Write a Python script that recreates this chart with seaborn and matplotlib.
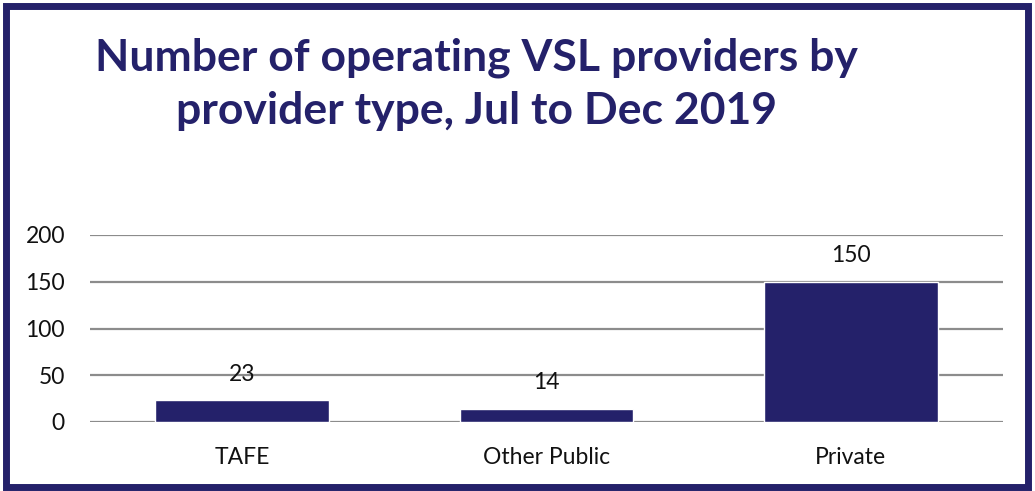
import matplotlib.pyplot as plt
from matplotlib.patches import Rectangle
import seaborn as sns
import pandas as pd

categories = ["TAFE", "Other Public", "Private"]
providers = [23, 14, 150]
yticks = [0, 50, 100, 150, 200]

navy = "#24216a"

sns.set_theme(style="white")
plt.rcParams["font.family"] = ["Lato", "DejaVu Sans"]

df = pd.DataFrame({"type": categories, "n": providers})

fig = plt.figure(figsize=(10.35, 4.91), dpi=100)
ax = fig.add_axes([90 / 1035, 1 - 422 / 491, 913 / 1035, 187 / 491])

sns.barplot(data=df, x="type", y="n", color=navy, saturation=1,
            width=0.57, ax=ax)

ax.set_ylim(0, 200)
ax.set_yticks(yticks)
ax.set_xlim(-0.5, 2.5)
ax.set_xlabel("")
ax.set_ylabel("")
for s in ax.spines.values():
    s.set_visible(False)
ax.grid(axis="y", color="#8c8c8c", linewidth=1.6)
ax.set_axisbelow(True)
ax.tick_params(axis="both", length=0, labelsize=16.5, colors="#111111")
ax.tick_params(axis="y", pad=18)
ax.tick_params(axis="x", pad=18)

for i, v in enumerate(providers):
    ax.annotate(str(v), (i, v), xytext=(0, 19), textcoords="offset points",
                ha="center", va="center", fontsize=16.5, color="#111111")

fig.text(476 / 1035, 1 - 84 / 491,
         "Number of operating VSL providers by\nprovider type, Jul to Dec 2019",
         ha="center", va="center", fontsize=32, fontweight="bold",
         color=navy, linespacing=1.4)

fig.patches.append(Rectangle((6 / 1035, 4 / 491), 1022 / 1035, 481 / 491,
                             transform=fig.transFigure, fill=False,
                             edgecolor=navy, linewidth=5))

fig.savefig("out.png", dpi=100)
